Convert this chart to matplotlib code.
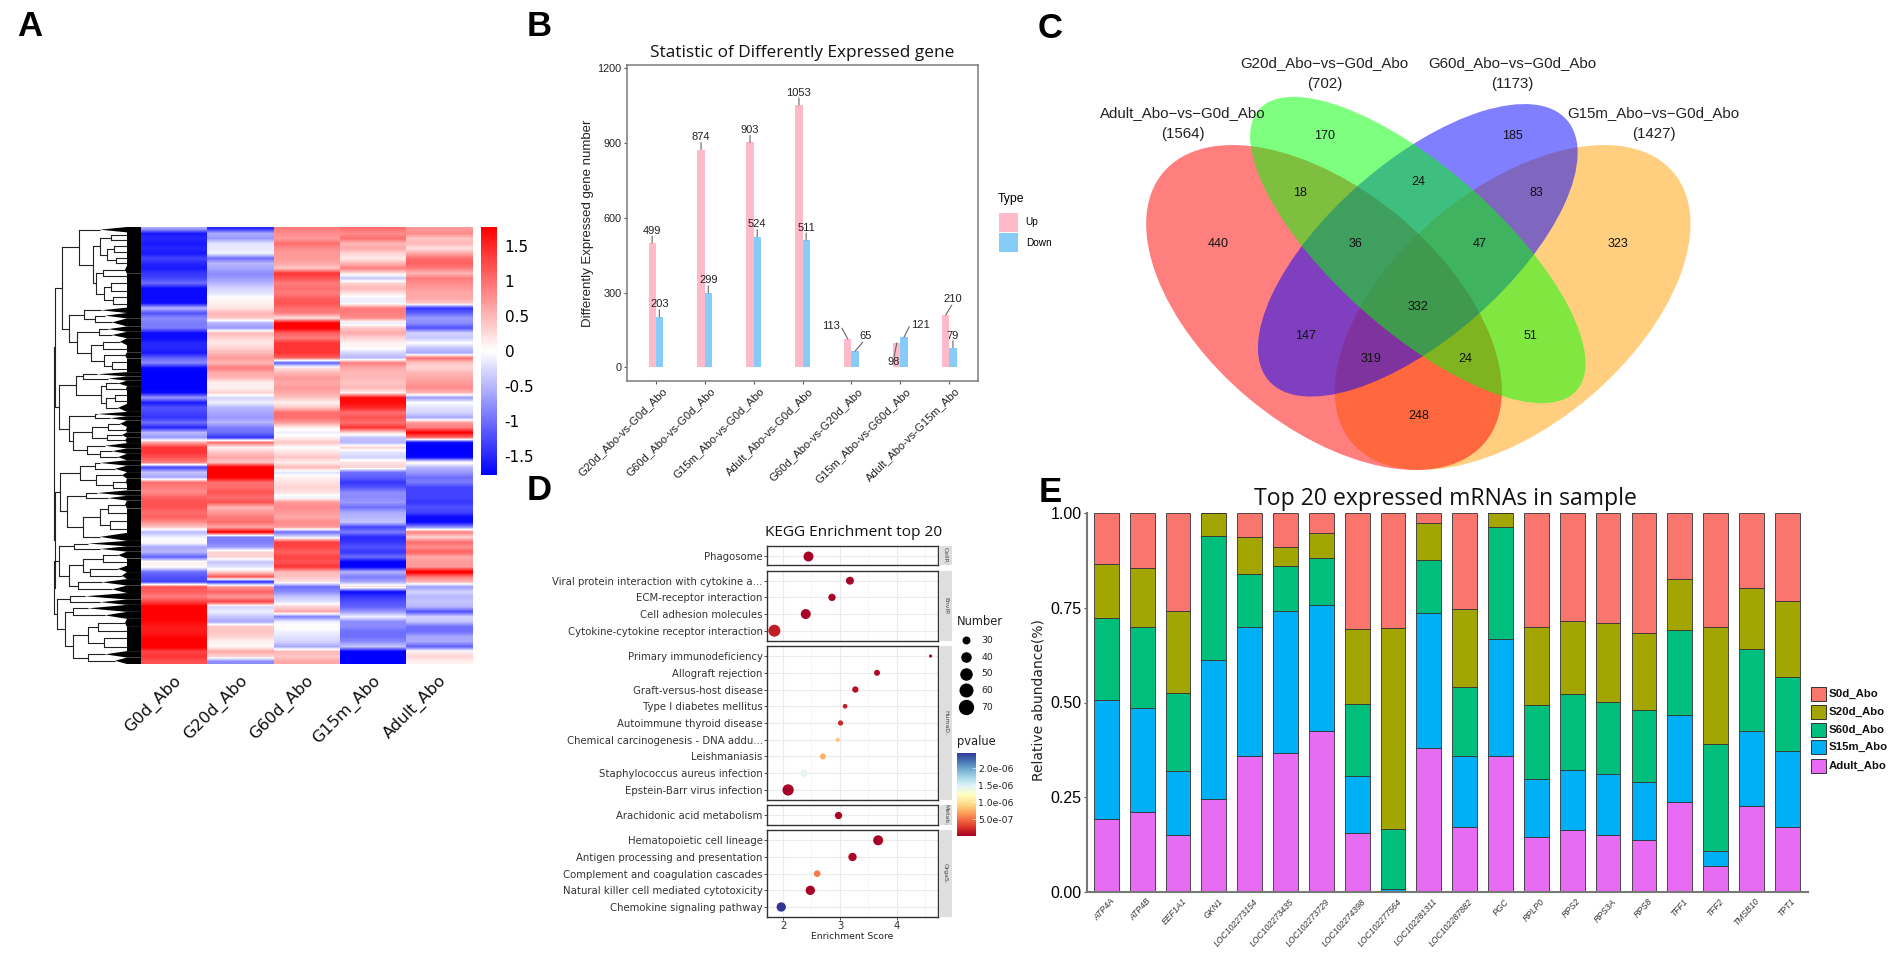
import numpy as np
import matplotlib
matplotlib.use('Agg')
import matplotlib.pyplot as plt
from matplotlib.colors import LinearSegmentedColormap, Normalize
from matplotlib.cm import ScalarMappable
from matplotlib.patches import Ellipse, Rectangle, Polygon

W, H = 1901, 959
ARIAL = 'Liberation Sans'
TITLE = 'Open Sans'

# ---- A: heatmap, one value per row band
heat_samples = ['G0d_Abo', 'G20d_Abo', 'G60d_Abo', 'G15m_Abo', 'Adult_Abo']
g0d = [-0.6, -1.6, -1.5, -1.6, -1.5, -1.6, -1.3, -1.5, -1.6, -1.4, -1.3, -1.0, -1.7, -1.7, -1.7, -1.7,
       -0.5, -1.2, -0.8, -0.9, -0.9, -1.7, -1.7, -1.5, -1.5, -1.6, -1.1, -0.8, -1.7, -1.8, -1.8, -1.8,
       -1.8, -1.7, -0.7, -1.6, -1.2, -1.3, -1.4, -1.0, -1.5, -0.5, -0.7, 0.6,
       1.4, 1.4, 1.2, 0.9, -1.3, -0.4, -0.6, 1.0, 0.9, 0.8, 1.1, 1.2, 1.2, 1.0, 1.1, 0.8, 0.4,
       -0.5, -0.1, 0.1, -0.6, -0.5, -1.1, 0.1, 0.05, -1.0, -1.2, -1.3, 1.2, 1.1, 0.9, 1.3,
       1.8, 1.8, 1.9, 1.7, 1.6, 1.6, 1.7, 1.9, 1.9, 1.3, 1.4, 1.2]
g20d = [-1.5, -0.6, -0.7, -0.2, -0.15, -0.1, -1.0, -0.5, -0.6, -0.8, -0.7, -0.5, -0.3, -0.2, 0.05, 0.1,
        0.2, 0.5, 0.4, -0.5, -0.7, 0.5, 0.3, 0.15, 0.3, 0.5, 0.7, 0.5, 0.9, 0.6, 0.5, 0.1,
        0.1, 0.3, -0.3, -0.1, -0.5, -0.6, -0.7, -0.5, -0.9, -1.0, -1.4, 1.0,
        0.1, 0.4, 0.6, 0.4, 1.9, 1.9, 1.8, 1.0, 1.0, 1.2, 1.0, 1.2, 0.5, 0.7, 0.9, 1.0, 0.6,
        1.8, -0.9, -0.9, -0.7, 0.3, 0.3, -0.4, -0.2, 0.3, 1.2, -1.5, 0.7, 1.1, 0.7, 1.3,
        -0.3, -0.1, -0.4, -0.6, 0.4, 0.4, 0.3, 0.1, 0.05, 0.6, 0.3, -0.8]
g60d = [0.9, 0.8, 0.7, 1.0, 0.8, 0.7, 0.7, 0.6, 0.4, 1.4, 1.2, 0.9, 1.0, 0.9, 1.1, 1.2,
        1.0, 0.9, 0.2, 1.8, 1.8, 1.1, 0.9, 1.4, 1.4, 1.4, 1.1, -1.1, 0.2, 0.5, 0.7, 0.6,
        0.7, 0.6, 0.4, 0.1, 0.4, 1.0, 1.0, 0.7, 0.1, -0.1, 0.1, 0.4,
        0.0, 0.2, 0.4, 0.1, 0.5, -0.2, 0.1, 0.2, 0.3, 0.2, -0.1, 0.7, 0.8, 0.7, 0.6, 0.8, 0.7,
        -1.0, -0.2, 1.3, 1.3, 1.1, 1.3, 1.2, 1.4, 0.5, 0.4, 0.2, -1.0, -0.8, -0.4, -0.2,
        0.3, 0.6, -0.9, -0.1, 0.05, -0.1, -0.2, -0.3, -0.6, 0.5, 0.4, 0.6]
g15m = [1.0, 0.8, 1.0, 0.5, 0.6, 0.3, 0.15, 0.5, 0.9, 0.2, -0.4, 0.3, 0.5, 0.2, -0.1, -0.1,
        0.9, 0.9, 0.8, -0.2, 0.4, 0.6, 0.3, 0.1, 0.05, -0.3, -0.5, 0.9, 0.6, 0.5, 0.5, 0.4,
        0.5, 0.1, 1.7, 1.7, 1.5, 1.0, 1.2, 1.0, 1.4, 0.3, -0.4, -0.5,
        0.3, -0.2, -0.3, 0.2, 0.3, -1.0, -1.1, -1.4, -1.2, -0.8, -0.8, -0.7, -1.0, -0.6, -0.5, -0.4, -1.3,
        -0.9, -1.5, -1.4, -1.2, -1.4, -1.0, -1.8, -1.8, -0.5, -0.9, -0.6, 0.3, -1.7, -1.4, -1.2,
        -1.1, -0.7, -0.1, -0.8, -0.8, -1.0, -1.0, -0.8, -0.4, -1.8, -1.8, -1.8]
adult = [0.7, 0.8, 0.4, 0.5, 0.2, 0.6, 1.0, 1.1, 0.9, 0.5, 0.9, 0.8, 0.7, 0.6, 0.6, 0.4,
         -1.4, -1.1, -0.7, -0.8, -1.2, -0.3, -0.4, 0.0, -0.4, -0.6, 1.0, 0.4, 0.3, 0.5, 0.6, 0.7,
         0.8, 0.5, -0.7, 0.0, -0.2, -0.3, -0.6, 0.7, 0.9, 1.8, 1.0, -1.7,
         -1.8, -1.8, -1.7, 0.1, -0.5, -0.7, -1.0, -0.9, -1.3, -1.3, -1.3, -1.4, -1.2, -1.3, -1.7, -1.7, -0.8,
         0.9, 0.3, 1.0, 0.8, 1.1, 0.6, 0.7, 0.7, 1.9, 0.9, 0.5, -0.7, -0.3, -0.5, -0.4,
         -0.5, -1.2, -0.3, -0.4, -1.0, -1.0, -0.6, -0.6, -1.1, 0.1, 0.3, 0.1]
heat_ticks = [1.5, 1, 0.5, 0, -0.5, -1, -1.5]

# dendrogram: node = (x, child, child), leaf = (rows, tip x)
c1 = (79, (1, 100), (93,
      (100, (111, (1, 128), (1, 130)), (107, (114, (1, 128), (1.2, 130)), (116, (1, 129), (1, 131)))),
      (96, (103, (1.5, 125), (1, 128)), (104, (111, (1.5, 131), (1.3, 130)), (113, (1, 132), (1.5, 130))))))
c2 = (69, (84, (1, 101), (95, (1, 105), (1.5, 112))),
      (77, (99, (1, 108), (1.2, 112)), (91, (103, (1.3, 120), (1.3, 128)), (104, (1.2, 125), (112, (1.3, 128), (1.2, 131))))))
c3 = (76, (83, (.8, 97), (.8, 108)), (101, (106, (1, 118), (1, 126)), (106, (115, (1.3, 130), (1, 132)), (1.5, 118))))
c4 = (69, (95, (.8, 97), (.8, 110)), (73, (92, (108, (1.2, 120), (1, 126)), (107, (1, 122), (1, 125))),
      (87, (1, 105), (100, (1, 112), (1.2, 118)))))
c5 = (80, (95, (1, 100), (1.2, 115)), (96, (1.2, 122), (113, (1.2, 126), (1, 128))))
c6 = (67, (86, (1, 97), (.9, 108)), (83, (100, (108, (1.5, 125), (1.5, 130)), (110, (1.5, 128), (1.5, 131))), (1.5, 100)))
c7 = (59, (74, (1, 88), (1, 100)), (69, (83, (103, (1.3, 118), (1.3, 128)), (90, (1.2, 118), (1.3, 122))), (78, (1.2, 102), (1.4, 112))))
c8 = (57, (70, (1.2, 85), (1, 100)), (65, (73, (1.3, 88), (1.3, 105)), (73, (88, (98, (1.5, 125), (1.4, 128)),
      (104, (1.5, 131), (1.6, 128))), (88, (1.2, 105), (1.2, 115)))))
tree = (54, (54.5, (62, c1, c2), (59, c3, c4)), (54.5, (60, c5, c6), (54, c7, c8)))

# ---- B: bars
deg_groups = ['G20d_Abo-vs-G0d_Abo', 'G60d_Abo-vs-G0d_Abo', 'G15m_Abo-vs-G0d_Abo', 'Adult_Abo-vs-G0d_Abo',
              'G60d_Abo-vs-G20d_Abo', 'G15m_Abo-vs-G60d_Abo', 'Adult_Abo-vs-G15m_Abo']
deg_up = [499, 874, 903, 1053, 113, 98, 210]
deg_down = [203, 299, 524, 511, 65, 121, 79]

# ---- C: venn
venn_sets = ['Adult_Abo\u2212vs\u2212G0d_Abo', 'G20d_Abo\u2212vs\u2212G0d_Abo', 'G60d_Abo\u2212vs\u2212G0d_Abo', 'G15m_Abo\u2212vs\u2212G0d_Abo']
venn_totals = [1564, 702, 1173, 1427]
venn_counts = [440, 170, 18, 24, 185, 83, 36, 47, 323, 332, 147, 51, 319, 24, 248]

# ---- D: KEGG dots
kegg_groups = ['CellP.', 'EnvIP.', 'HumaD.', 'Metab.', 'OrgaS.']
kegg_terms = [['Phagosome'],
              ['Viral protein interaction with cytokine a...', 'ECM-receptor interaction', 'Cell adhesion molecules',
               'Cytokine-cytokine receptor interaction'],
              ['Primary immunodeficiency', 'Allograft rejection', 'Graft-versus-host disease', 'Type I diabetes mellitus',
               'Autoimmune thyroid disease', 'Chemical carcinogenesis - DNA addu...', 'Leishmaniasis',
               'Staphylococcus aureus infection', 'Epstein-Barr virus infection'],
              ['Arachidonic acid metabolism'],
              ['Hematopoietic cell lineage', 'Antigen processing and presentation', 'Complement and coagulation cascades',
               'Natural killer cell mediated cytotoxicity', 'Chemokine signaling pathway']]
kegg_score = [[2.44], [3.175, 2.86, 2.40, 1.85], [4.59, 3.65, 3.27, 3.09, 3.01, 2.96, 2.70, 2.37, 2.09], [2.96],
              [3.67, 3.22, 2.60, 2.48, 1.97]]
kegg_number = [[50], [32, 27, 50, 72], [5, 18, 20, 11, 14, 9, 18, 27, 64], [27], [50, 35, 22, 44, 44]]
kegg_p = [[1e-8], [2e-8, 2e-8, 1e-8, 1.5e-7], [3e-8, 5e-8, 8e-8, 1.5e-7, 2e-7, 8.5e-7, 7.5e-7, 1.45e-6, 1e-8], [3e-8],
          [1e-8, 3e-8, 5.5e-7, 2e-8, 2.46e-6]]
legend_number = [30, 40, 50, 60, 70]

# ---- E: stacked fractions
mrna = ['ATP4A', 'ATP4B', 'EEF1A1', 'GKN1', 'LOC102273154', 'LOC102273435', 'LOC102273729', 'LOC102274398',
        'LOC102277564', 'LOC102281311', 'LOC102287882', 'PGC', 'RPLP0', 'RPS2', 'RPS3A', 'RPS8', 'TFF1', 'TFF2', 'TMSB10', 'TPT1']
adult_abo = [.193, .211, .151, .245, .360, .366, .426, .155, .001, .381, .172, .358, .145, .164, .151, .138, .238, .069, .227, .171]
s15m_abo = [.314, .275, .168, .367, .339, .376, .332, .151, .008, .355, .188, .310, .153, .159, .161, .152, .228, .038, .197, .201]
s60d_abo = [.217, .212, .205, .326, .141, .118, .122, .190, .158, .141, .181, .296, .196, .200, .190, .189, .225, .284, .218, .195]
s20d_abo = [.142, .158, .218, .062, .097, .051, .067, .199, .529, .097, .206, .036, .205, .193, .208, .204, .136, .309, .159, .201]
s0d_abo = [.134, .144, .258, 0, .063, .089, .053, .305, .304, .026, .253, 0, .301, .284, .290, .317, .173, .300, .199, .232]


def box(left, top, right, bottom):
    return fig.add_axes([left / W, 1 - bottom / H, (right - left) / W, (bottom - top) / H])


fig = plt.figure(figsize=(W / 100, H / 100), dpi=100, facecolor='white')
# whole figure in pixels, y pointing down
ov = fig.add_axes([0, 0, 1, 1], zorder=5)
ov.set_xlim(0, W)
ov.set_ylim(H, 0)
ov.axis('off')
ov.patch.set_alpha(0)

for letter, x, y in [('A', 30, 27), ('B', 539, 27), ('C', 1050, 29), ('D', 539, 491), ('E', 1050, 492)]:
    ov.text(x, y, letter, family=ARIAL, weight='bold', fontsize=25, ha='center', va='center')

# ---------- A
HEAT_L, HEAT_R, HEAT_T, HEAT_B = 141, 472.5, 227, 664
bwr = LinearSegmentedColormap.from_list('heat', ['#0000ff', '#ffffff', '#ff0000'])
ax = box(HEAT_L, HEAT_T, HEAT_R, HEAT_B)
heat_cols = [g0d, g20d, g60d, g15m, adult]
# each column on its own, so the stripes soften but the column edges stay sharp
for i, col in enumerate(heat_cols):
    ax.imshow(np.array(col)[:, None], cmap=bwr, vmin=-1.77, vmax=1.77, aspect='auto', interpolation='bilinear',
              extent=(i, i + 1, len(col), 0))
ax.set_xlim(0, 5)
ax.set_ylim(len(g0d), 0)
ax.axis('off')
for i, s in enumerate(heat_samples):
    ov.text(HEAT_L + (i + .5) * 66.3 - 1, 673, s, family='DejaVu Sans', fontsize=11.7, rotation=45,
            ha='right', va='top', rotation_mode='anchor', color='#111111')

cax = box(481, 227, 497, 475)
cb = fig.colorbar(ScalarMappable(Normalize(-1.77, 1.77), bwr), cax=cax)
cb.outline.set_visible(False)
cb.set_ticks(heat_ticks, labels=['%g' % t for t in heat_ticks])
cb.ax.tick_params(length=0, labelsize=11, pad=5.5)


def count_rows(n):
    return n[0] if len(n) == 2 else count_rows(n[1]) + count_rows(n[2])


row_h = (HEAT_B - HEAT_T) / count_rows(tree)
cursor = [HEAT_T]
HAIR = 127


def draw_tree(n, parent_x):
    if len(n) == 2:
        y0 = cursor[0]
        y1 = y0 + n[0] * row_h
        cursor[0] = y1
        yc = (y0 + y1) / 2
        # hairs too fine to separate: a wedge into the solid band
        tip = min(n[1], HAIR)
        ov.add_patch(Polygon([(tip, yc), (HAIR, y0), (HEAT_L, y0), (HEAT_L, y1), (HAIR, y1)], fc='black', ec='none'))
        ov.plot([parent_x, tip], [yc, yc], color='#222222', lw=.8, solid_capstyle='butt')
        return yc
    a = draw_tree(n[1], n[0])
    b = draw_tree(n[2], n[0])
    ov.plot([n[0], n[0]], [a, b], color='#222222', lw=.8)
    yc = (a + b) / 2
    ov.plot([parent_x, n[0]], [yc, yc], color='#222222', lw=.8, solid_capstyle='butt')
    return yc


draw_tree(tree, 54)

# ---------- B
ax = box(627, 65, 978, 381)
xs = np.arange(len(deg_groups))
bw = 0.147
ax.bar(xs - bw / 2, deg_up, bw, color='#FFB9C8', label='Up')
ax.bar(xs + bw / 2, deg_down, bw, color='#87CBF8', label='Down')
ax.set_xlim(-0.587, 6.585)
ax.set_ylim(-55, 1214)
ax.set_yticks([0, 300, 600, 900, 1200])
ax.set_xticks(xs)
ax.set_xticklabels([])
for s in ax.spines.values():
    s.set_color('#7a7a7a')
    s.set_linewidth(1.1)
ax.tick_params(length=2.5, color='#555555', width=.8, labelsize=7.8, pad=1.5, labelcolor='#222222')
for t in ax.get_yticklabels():
    t.set_family(ARIAL)
ax.set_ylabel('Differently Expressed gene number', family=ARIAL, fontsize=9.5, labelpad=2.5, color='#222222')
ax.text(.5, 1.013, 'Statistic of Differently Expressed gene', transform=ax.transAxes, family=TITLE, fontsize=12.4,
        ha='center', va='bottom', color='#111111')
for i, g in enumerate(deg_groups):
    ov.text(655.7 + 48.9 * i + 5.5, 386, g, family=ARIAL, fontsize=8.1, rotation=45, ha='right', va='top',
            rotation_mode='anchor', color='#222222')

# text offset and leader end in pixels from the bar top
up_off = [(0, 12.5, 0, 7)] * 4 + [(-17, 13, -6, 11), (-3, -18.7, -2.7, -13.7), (6.5, 16, 6, 10)]
down_off = [(0, 12.5, 0, 7)] * 4 + [(10, 15, 7.7, 9), (16, 12.5, 5.3, 10.5), (0, 12, 0, 7)]
for vals, side, offs in [(deg_up, -1, up_off), (deg_down, 1, down_off)]:
    for i, v in enumerate(vals):
        tx, ty, lx, ly = offs[i]
        xy = (xs[i] + side * bw / 2, v)
        ax.annotate('', xy=xy, xytext=(lx * .72, ly * .72), textcoords=('offset points'),
                    arrowprops=dict(arrowstyle='-', color='#666666', lw=.8, shrinkA=0, shrinkB=0))
        ax.annotate(str(v), xy=xy, xytext=(tx * .72, ty * .72), textcoords='offset points', ha='center', va='center',
                    family=ARIAL, fontsize=8, color='#222222')
ov.text(998, 199, 'Type', family=ARIAL, fontsize=8.8, va='center')
for label, col, top in [('Up', '#FFB9C8', 212.5), ('Down', '#87CBF8', 233)]:
    ov.add_patch(Rectangle((998.7, top), 19.3, 19.3, fc=col, ec='none'))
    ov.text(1025.7, top + 9.7, label, family=ARIAL, fontsize=7.2, va='center')

# ---------- C
# orange goes under red, blue under green, as the overlaps show
for cx, cy, a, b, ang, col in [(1512.6, 307.5, 210, 118, -40, '#FFA000'),
                               (1324, 307.5, 210, 118, 40, '#FF0000'),
                               (1417.8, 250.3, 198, 88, -41.2, '#0000FF'),
                               (1417.8, 250, 212, 81.5, 41.5, '#00FF00')]:
    ov.add_patch(Ellipse((cx, cy), 2 * a, 2 * b, angle=ang, fc=col, ec='none', alpha=.5))
count_pos = [(317, 643), (561, 318), (505, 489), (776, 455), (991, 318), (1048, 489), (632, 643), (918, 643),
             (1234, 643), (776, 832), (518, 918), (1033, 918), (668, 987), (883, 987), (776, 1157)]
for c, (zx, zy) in zip(venn_counts, count_pos):
    ov.text(1080 + zx / 2.294, 30 + zy / 3, str(c), family=ARIAL, fontsize=9, ha='center', va='center', color='#111111')
label_pos = [(236, 248, 313), (561, 98, 162), (991, 98, 162), (1316, 248, 313)]
for name, tot, (zx, y1, y2) in zip(venn_sets, venn_totals, label_pos):
    ov.text(1080 + zx / 2.294, 30 + y1 / 3, name, family=ARIAL, fontsize=10.8, ha='center', va='center', color='#222222')
    ov.text(1080 + zx / 2.294, 30 + y2 / 3, '(%d)' % tot, family=ARIAL, fontsize=10.8, ha='center', va='center', color='#222222')

# ---------- D
rdylbu = plt.get_cmap('RdYlBu')
p_norm = Normalize(0, 2.46e-6)
kegg_boxes = [(546, 565.3), (570.7, 640.7), (646, 800), (805.3, 824.7), (830.3, 917)]
for j, (top, bottom) in enumerate(kegg_boxes):
    ax = box(767, top, 938, bottom)
    n = len(kegg_terms[j])
    ax.set_axisbelow(True)
    ax.grid(True, which='major', color='#ebebeb', lw=.8)
    ax.set_xticks([2.5, 3.5, 4.5], minor=True)
    ax.grid(True, which='minor', axis='x', color='#f2f2f2', lw=.5)
    ax.tick_params(which='minor', length=0)
    sizes = [(1.41 * np.sqrt(v) * .72) ** 2 for v in kegg_number[j]]
    ax.scatter(kegg_score[j], range(n), s=sizes, c=kegg_p[j], cmap=rdylbu, norm=p_norm, linewidths=0, zorder=3)
    ax.set_xlim(1.72, 4.72)
    ax.set_ylim(n - .4, -.6)
    ax.set_yticks(range(n))
    ax.set_yticklabels(kegg_terms[j], family='DejaVu Sans', fontsize=7.3, color='#333333')
    ax.set_xticks([2, 3, 4])
    ax.tick_params(axis='y', length=2, width=.6, pad=1, color='#333333')
    if j == len(kegg_boxes) - 1:
        ax.tick_params(axis='x', length=2, width=.6, labelsize=7.2, pad=1, color='#333333', labelcolor='#333333')
        ax.set_xlabel('Enrichment Score', family='DejaVu Sans', fontsize=6.7, labelpad=.5, color='#222222')
    else:
        ax.tick_params(axis='x', length=0, labelbottom=False)
    for s in ax.spines.values():
        s.set_color('#333333')
        s.set_linewidth(1)
    ov.add_patch(Rectangle((939.3, top), 12.7, bottom - top, fc='#dedede', ec='none'))
    ov.text(945.6, (top + bottom) / 2, kegg_groups[j], rotation=-90, family='DejaVu Sans', fontsize=4.4, ha='center',
            va='center', color='#444444')
ov.text(854, 533, 'KEGG Enrichment top 20', family=TITLE, fontsize=11.1, ha='center', va='center', color='#111111')
ov.text(957, 621.7, 'Number', family='DejaVu Sans', fontsize=8.3, va='center', color='#222222')
ov.text(957, 742, 'pvalue', family='DejaVu Sans', fontsize=8.3, va='center', color='#222222')
legend_diam = [8, 10.5, 12.5, 14, 15.3]
for k, (v, d) in enumerate(zip(legend_number, legend_diam)):
    y = 640.3 + k * 16.7
    ov.scatter([966], [y], s=(d * .72) ** 2, color='black', linewidths=0)
    ov.text(981.7, y, str(v), family='DejaVu Sans', fontsize=6.7, va='center', color='#222222')
cax = box(957, 752.7, 975.7, 836.3)
cb = fig.colorbar(ScalarMappable(p_norm, rdylbu), cax=cax)
cb.outline.set_visible(False)
cb.set_ticks([5e-7, 1e-6, 1.5e-6, 2e-6], labels=['5.0e-07', '1.0e-06', '1.5e-06', '2.0e-06'])
cb.ax.tick_params(length=3, width=.4, color='white', direction='in', labelsize=6.7, pad=2, labelcolor='#222222')

# ---------- E
ax = box(1086.6, 513, 1808, 892)
hue = ['#E76BF3', '#00B0F6', '#00BF7D', '#A3A500', '#F8766D']
series = [adult_abo, s15m_abo, s60d_abo, s20d_abo, s0d_abo]
names = ['Adult_Abo', 'S15m_Abo', 'S60d_Abo', 'S20d_Abo', 'S0d_Abo']
base = np.zeros(len(mrna))
xm = np.arange(len(mrna))
for vals, col in zip(series, hue):
    ax.bar(xm, vals, .69, bottom=base, color=col, edgecolor='#333333', linewidth=.6)
    base += np.array(vals)
ax.set_xlim(-.55, 19.58)
ax.set_ylim(0, 1.0)
for side in ['top', 'right']:
    ax.spines[side].set_visible(False)
for side in ['left', 'bottom']:
    ax.spines[side].set_color('#777777')
    ax.spines[side].set_linewidth(1.5)
ax.set_yticks([0, .25, .5, .75, 1], labels=['0.00', '0.25', '0.50', '0.75', '1.00'], family=ARIAL, fontsize=11.5)
ax.set_xticks([])
ax.tick_params(axis='y', length=2, pad=1.5, color='#555555')
ov.text(1038.6, 700, 'Relative abundance(%)', rotation=90, family='DejaVu Sans', fontsize=10, ha='center', va='center', color='#222222')
ov.text(1445, 499, 'Top 20 expressed mRNAs in sample', family=TITLE, fontsize=16.6, ha='center', va='center', color='#111111')
for i, g in enumerate(mrna):
    ov.text(1106.3 + 35.8 * i + 4, 897, g, family=ARIAL, style='italic', fontsize=6.2, rotation=48, ha='right', va='top',
            rotation_mode='anchor', color='#333333')
leg_top = [686.7, 705, 722.7, 740.3, 758.7]
for t, name, col in zip(leg_top, names[::-1], hue[::-1]):
    ov.add_patch(Rectangle((1811.4, t), 14.1, 14, fc=col, ec='#333333', lw=.7))
    ov.text(1828.4, t + 7, name, family=ARIAL, weight='bold', fontsize=8.2, va='center', color='#111111')

fig.savefig('out.png', dpi=100)
